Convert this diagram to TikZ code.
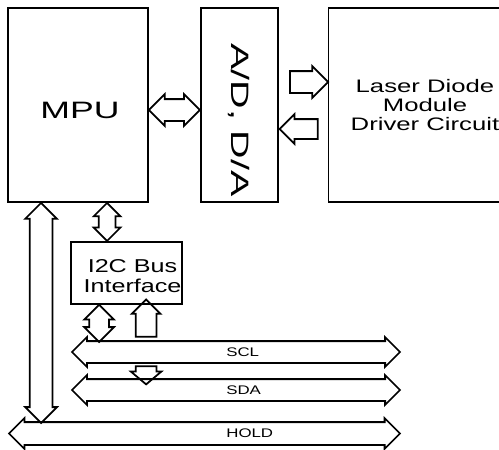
\documentclass[tikz,border=0pt]{standalone}
\usepackage{fontspec}
\setmainfont{Liberation Sans}
\usetikzlibrary{positioning,shapes.arrows,calc}
\tikzset{box/.style={draw,line width=1pt,inner sep=0pt,minimum height=38.8mm},
  dbl/.style={double arrow,draw,line width=1pt,inner xsep=0pt,inner ysep=2mm,minimum width=0pt,double arrow head extend=1mm,double arrow tip angle=90},
  sgl/.style={single arrow,draw,line width=1pt,inner xsep=0pt,inner ysep=2mm,minimum width=0pt,single arrow head extend=1mm,single arrow tip angle=90},
  txt/.style={inner sep=0pt,align=center}}
\newcommand{\wide}[2]{\scalebox{#1}[1]{#2}}
% block arrow node from #2 to #3, named #4
\newcommand{\blk}[4][dbl]{\path let \p1=#2,\p2=#3,\n1={veclen(\x2-\x1,\y2-\y1)},\n2={atan2(\y2-\y1,\x2-\x1)} in node[#1,minimum height=\n1,rotate=\n2](#4) at ($(\p1)!.5!(\p2)$){};}

\begin{document}
\begin{tikzpicture}[node distance=10mm]
\useasboundingbox (0,0) rectangle (99.8mm,-90mm);
% boxes
\node[box,minimum width=28mm](mpu) at (15.6mm,-21mm){};
\node[box,minimum width=15.4mm,right=10.2mm of mpu](ad){};\node[box,minimum width=34.3mm,right=9.8mm of ad](laser){};
\node[box,minimum width=22.2mm,minimum height=12.4mm,below right=7.6mm and 12.6mm of mpu.south west](i2c){};
% texts
\node[txt,font=\fontsize{13.5}{16}\selectfont](mputxt) at (16mm,-22mm){\wide{1.5}{MPU}};
\node[txt,rotate=-90,font=\fontsize{14.3}{17}\selectfont](adtxt) at ([yshift=-3mm]ad.center){\wide{1.57}{A/D, D/A}};
\node[txt,font=\fontsize{10.3}{10.6}\selectfont](lasertxt) at (85mm,-21mm){\wide{1.42}{Laser Diode}\\\wide{1.42}{Module}\\\wide{1.42}{Driver Circuit}};
\node[txt,font=\fontsize{10.6}{11.4}\selectfont](i2ctxt) at (26.5mm,-55.2mm){\wide{1.35}{I2C Bus}\\\wide{1.35}{Interface}};
% buses
\coordinate (sclL) at (14.4mm,-70.4mm);\coordinate (sclR) at (80mm,-70.4mm);
\coordinate (sdaL) at (14.4mm,-78mm);\coordinate (sdaR) at (80mm,-78mm);
\coordinate (holdL) at (1.8mm,-86.7mm);\coordinate (holdR) at (80mm,-86.7mm);
\blk[dbl,double arrow head extend=.8mm]{(sclL)}{(sclR)}{scl}
\blk[dbl,double arrow head extend=.8mm]{(sdaL)}{(sdaR)}{sda}
\blk[dbl,inner ysep=2.1mm,double arrow head extend=.8mm]{(holdL)}{(holdR)}{hold}
\node[txt,anchor=west,font=\fontsize{7.1}{8}\selectfont](scltxt) at (45.2mm,-70.4mm){\wide{1.35}{SCL}};
\node[txt,anchor=west,font=\fontsize{7.1}{8}\selectfont](sdatxt) at (45.2mm,-78mm){\wide{1.35}{SDA}};
\node[txt,anchor=west,font=\fontsize{7.1}{8}\selectfont](holdtxt) at (45.2mm,-86.7mm){\wide{1.35}{HOLD}};
% connectors
\blk{([yshift=-1mm]mpu.east)}{([yshift=-1mm]ad.west)}{mpuad}
\blk[sgl]{([shift={(1.2mm,4.6mm)}]ad.east)}{([shift={(-1mm,4.6mm)}]laser.west)}{adlaser}
\blk[sgl,inner ysep=1.8mm]{([shift={(-1mm,-4.8mm)}]laser.west)}{([shift={(1.2mm,-4.8mm)}]ad.east)}{laserad}
\blk[dbl,inner ysep=2.1mm,double arrow head extend=.9mm]{([xshift=6.8mm]mpu.south west)}{($(mpu.south west|-holdL)+(6.8mm,2.1mm)$)}{mpuhold}
\blk[dbl,inner ysep=1.5mm]{([xshift=20mm]mpu.south west)}{($(mpu.south west|-i2c.north)+(20mm,0)$)}{mpui2c}
\blk[dbl,inner ysep=1.8mm]{([xshift=5.8mm]i2c.south west)}{($(i2c.south west|-sclL)+(5.8mm,2mm)$)}{i2cscl}
\blk[sgl,inner ysep=1.9mm,single arrow head extend=.8mm]{($(i2c.south west|-sclL)+(15.2mm,2mm)$)}{([xshift=15.2mm]i2c.south west)}{sclup}
\blk[sgl,inner ysep=1.9mm,single arrow tip angle=100]{($(i2c.south west|-sclL)+(15.2mm,-2mm)$)}{($(i2c.south west|-sdaL)+(15.2mm,2mm)$)}{scldown}
\end{tikzpicture}
\end{document}
